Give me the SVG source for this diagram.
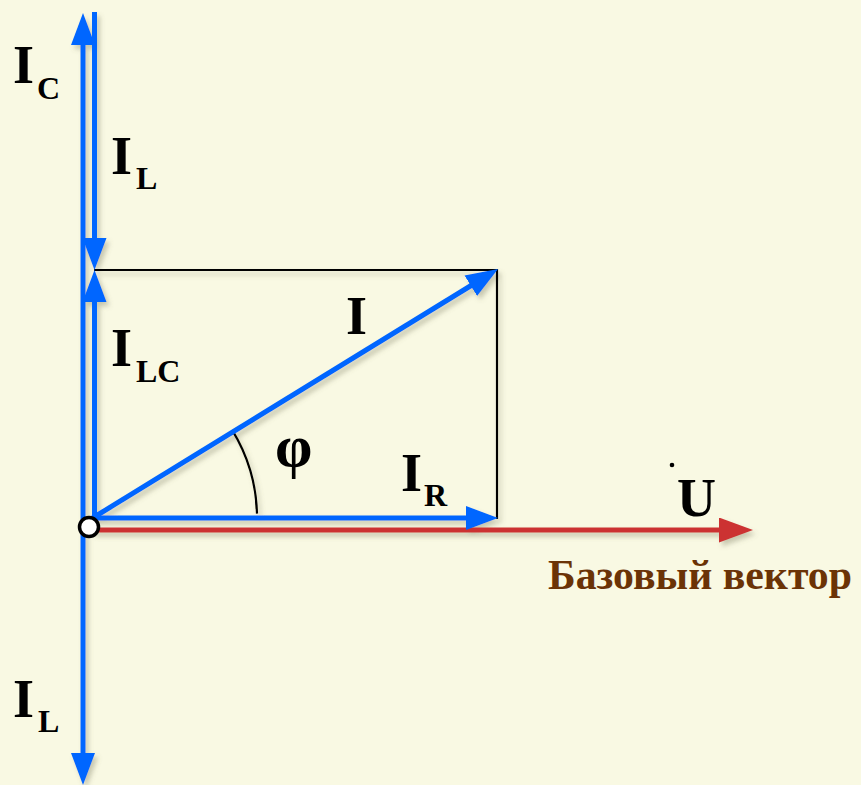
<svg xmlns="http://www.w3.org/2000/svg" width="861" height="785" viewBox="0 0 861 785">
<style>
.t{font-family:"Liberation Serif","Times New Roman",serif;font-weight:bold;fill:#000}
.big{font-size:54px}
.sub{font-size:32px}
.blue{stroke:#0066FF;stroke-width:5;fill:none}
.blk{stroke:#000;stroke-width:2.2;fill:none}
</style>
<defs>
<filter id="sh" x="-20%" y="-20%" width="140%" height="140%">
<feDropShadow dx="3" dy="4" stdDeviation="2.5" flood-color="#6b6b50" flood-opacity="0.35"/>
</filter>
<marker id="ab" viewBox="0 0 32 24" markerWidth="32" markerHeight="24" refX="10" refY="12" markerUnits="userSpaceOnUse" orient="auto-start-reverse">
<path d="M0,0 L32,12 L0,24 Z" fill="#0066FF"/>
</marker>
<marker id="ar" viewBox="0 0 34 25" markerWidth="34" markerHeight="25" refX="12" refY="12.5" markerUnits="userSpaceOnUse" orient="auto">
<path d="M0,0 L34,12.5 L0,25 Z" fill="#CC3333"/>
</marker>
</defs>
<rect width="861" height="785" fill="#F9F9E3"/>
<g id="connectors" filter="url(#sh)">
<line id="box-top" class="blk" x1="94" y1="270" x2="498" y2="270"/>
<line id="box-right" class="blk" x1="497" y1="269" x2="497" y2="519"/>
<path id="phi-arc" class="blk" d="M232.2,430.2 A168,168 0 0 1 257,513.6"/>
<line id="U" x1="92" y1="530" x2="731" y2="530" stroke="#CC3333" stroke-width="5" marker-end="url(#ar)"/>
<line id="IR" class="blue" x1="92" y1="518" x2="476" y2="518" marker-end="url(#ab)"/>
<line id="I" class="blue" x1="91" y1="519" x2="479.3" y2="280.5" marker-end="url(#ab)"/>
<line id="IL-top" class="blue" x1="94.5" y1="12" x2="94.5" y2="248" marker-end="url(#ab)"/>
<line id="ILC" class="blue" x1="94.5" y1="518" x2="94.5" y2="292" marker-end="url(#ab)"/>
<line id="IC-IL" class="blue" x1="83" y1="35" x2="83" y2="763" marker-start="url(#ab)" marker-end="url(#ab)"/>
</g>
<g id="origin">
<circle cx="89" cy="527" r="9.5" fill="#FFFFFF" stroke="#000" stroke-width="3.5"/>
</g>
<g id="label-IC"><text class="t big" x="13" y="83">I</text><text class="t sub" x="37" y="99">C</text></g>
<g id="label-IL-top"><text class="t big" x="111" y="174">I</text><text class="t sub" x="136" y="189">L</text></g>
<g id="label-ILC"><text class="t big" x="111" y="366">I</text><text class="t sub" x="136" y="382">LC</text></g>
<g id="label-I"><text class="t big" x="346" y="334">I</text></g>
<g id="label-phi"><text class="t" style="font-size:60px" x="275" y="466">φ</text></g>
<g id="label-IR"><text class="t big" x="401" y="491">I</text><text class="t sub" x="424" y="506">R</text></g>
<g id="label-U"><text class="t big" x="677" y="516">U</text><circle cx="672" cy="465" r="2.3" fill="#000"/></g>
<g id="label-base"><text class="t" style="font-size:42px;fill:#6B3306" x="548" y="589" textLength="304" lengthAdjust="spacingAndGlyphs">Базовый вектор</text></g>
<g id="label-IL-bottom"><text class="t big" x="13" y="717">I</text><text class="t sub" x="38" y="732">L</text></g>
</svg>
